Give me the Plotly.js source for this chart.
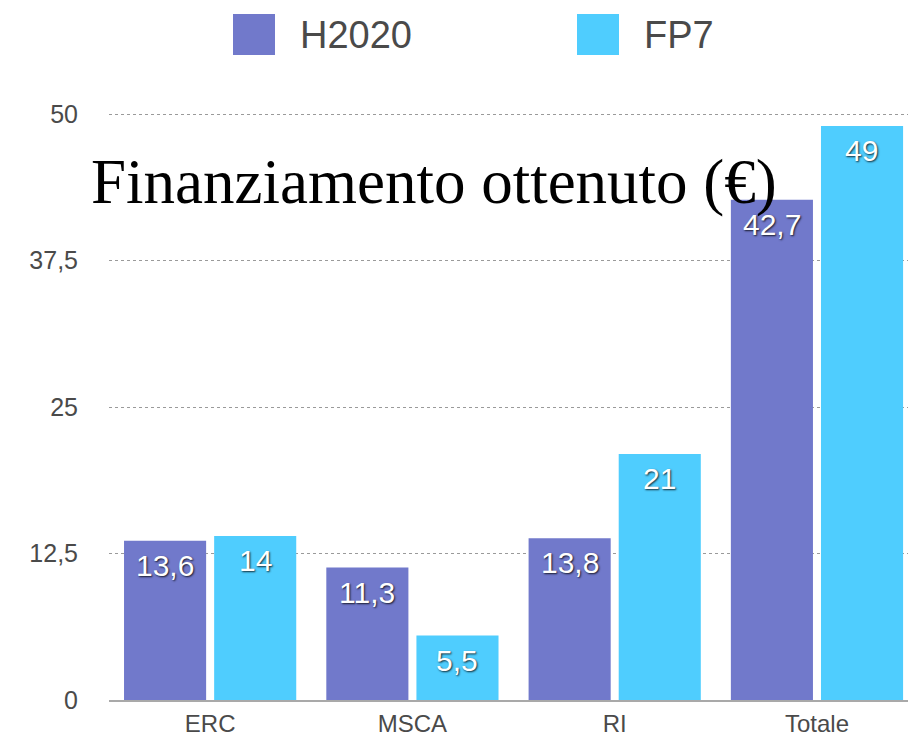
<!DOCTYPE html>
<html>
<head>
<meta charset="utf-8">
<script src="https://cdn.plot.ly/plotly-3.0.1.min.js"></script>
<style>html,body{margin:0;padding:0;background:#fff;}#chart{width:911px;height:738px;}</style>
</head>
<body>
<div id="chart"></div>
<script>
const categories = ["ERC", "MSCA", "RI", "Totale"];
const seriesNames = ["H2020", "FP7"];
const h2020 = [13.6, 11.3, 13.8, 42.7];
const fp7 = [14, 5.5, 21, 49];
const yTickVals = [0, 12.5, 25, 37.5, 50];
const yTickText = ["0", "12,5", "25", "37,5", "50"];
const colors = ["#7179cb", "#4fcdfe"];
const titleText = "Finanziamento ottenuto (€)";

const W = 911, H = 738;
const margin = {l: 109, r: 3, t: 113, b: 38};
const plotW = W - margin.l - margin.r;
const plotH = H - margin.t - margin.b;
const px2x = p => (p - margin.l) / plotW;
const px2y = p => (H - margin.b - p) / plotH;

const seriesVals = [h2020, fp7];
const traces = seriesVals.map((vals, i) => ({
  type: "bar",
  name: seriesNames[i],
  x: categories,
  y: vals,
  marker: {color: colors[i]},
  hoverinfo: "skip",
  showlegend: false
}));

const labelFont = {family: "Liberation Sans, Arial, sans-serif", size: 30, color: "#ffffff",
  shadow: "1px 1px 2px rgba(0,0,0,0.8)"};
const annotations = [];
seriesVals.forEach((vals, i) => {
  vals.forEach((v, j) => {
    annotations.push({
      x: categories[j], y: v, xref: "x", yref: "y",
      text: String(v).replace(".", ","),
      showarrow: false, yanchor: "top", xanchor: "center",
      xshift: i === 0 ? -45 : 45, yshift: -6,
      font: labelFont
    });
  });
});

// legend drawn manually (large swatches)
const legendFont = {family: "Liberation Sans, Arial, sans-serif", size: 38, color: "#4a4a4a"};
const legendSquares = [[233, 275], [577, 619]];
const legendTextX = [298, 642];
const shapes = [];
seriesNames.forEach((n, i) => {
  shapes.push({type: "rect", xref: "paper", yref: "paper",
    x0: px2x(legendSquares[i][0]), x1: px2x(legendSquares[i][1]),
    y0: px2y(55), y1: px2y(14), fillcolor: colors[i], line: {width: 0}});
  annotations.push({xref: "paper", yref: "paper", x: px2x(legendTextX[i]), y: px2y(35),
    xanchor: "left", yanchor: "middle", text: n, showarrow: false, font: legendFont});
});

const layout = {
  width: W, height: H,
  margin: margin,
  paper_bgcolor: "#ffffff", plot_bgcolor: "#ffffff",
  separators: ",.",
  barmode: "group",
  bargap: 0.109,
  bargroupgap: 0.089,
  showlegend: false,
  title: {
    text: titleText,
    font: {family: "Liberation Serif, Times New Roman, serif", size: 63, color: "#000000"},
    x: 91 / W, xanchor: "left", xref: "container",
    y: 1 - 181 / H, yanchor: "middle", yref: "container"
  },
  xaxis: {
    type: "category",
    range: [-0.5, 3.45],
    showline: true, linecolor: "#a9a9a9", linewidth: 1.5,
    showgrid: false, ticks: "",
    tickfont: {family: "Liberation Sans, Arial, sans-serif", size: 24, color: "#4a4a4a"},
    ticklabelstandoff: 2,
    fixedrange: true
  },
  yaxis: {
    range: [0, 50.1],
    tickmode: "array", tickvals: yTickVals, ticktext: yTickText,
    showgrid: true, gridcolor: "#9a9a9a", griddash: "dot", gridwidth: 1,
    zeroline: false, showline: false, ticks: "",
    tickfont: {family: "Liberation Sans, Arial, sans-serif", size: 25, color: "#4a4a4a"},
    ticklabelstandoff: 30,
    fixedrange: true
  },
  annotations: annotations,
  shapes: shapes
};

Plotly.newPlot("chart", traces, layout, {displayModeBar: false, staticPlot: true});
</script>
</body>
</html>
